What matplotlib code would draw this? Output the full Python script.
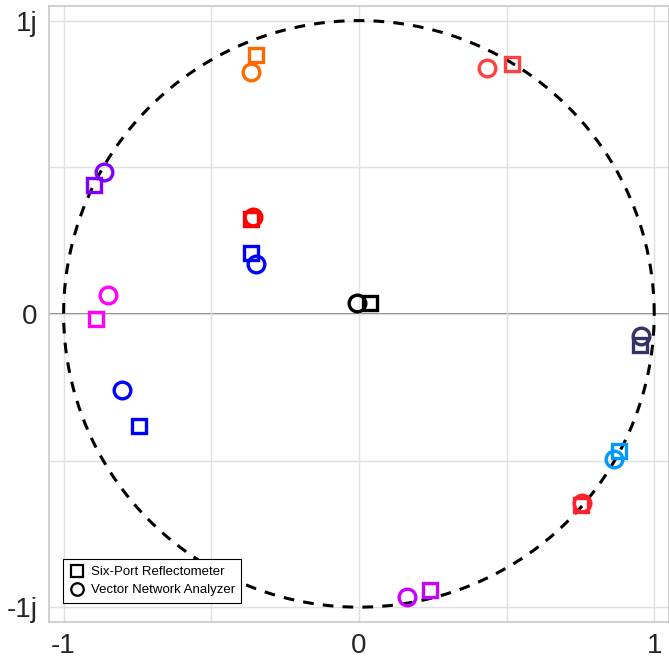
import numpy as np
import matplotlib.pyplot as plt

plt.rcParams['font.family'] = ['Liberation Sans', 'DejaVu Sans']

# colour of each measured load
colors = ['#ff6a00', '#ff4040', '#7f00ff', '#ff0000', '#0000ff', '#ff00ff',
          '#000000', '#333366', '#0000ff', '#0099ff', '#ff2030', '#cc00ff']

# six-port reflectometer (squares)
spr_re = [-0.350, 0.517, -0.898, -0.364, -0.367, -0.891,
          0.037, 0.952, -0.745, 0.881, 0.752, 0.241]
spr_im = [0.884, 0.853, 0.440, 0.324, 0.208, -0.017,
          0.038, -0.106, -0.382, -0.468, -0.652, -0.942]

# vector network analyzer (circles)
vna_re = [-0.367, 0.435, -0.864, -0.357, -0.347, -0.850,
          -0.007, 0.956, -0.803, 0.864, 0.755, 0.163]
vna_im = [0.826, 0.840, 0.485, 0.331, 0.171, 0.065,
          0.038, -0.075, -0.259, -0.495, -0.645, -0.966]

fig = plt.figure(figsize=(6.69, 6.58), dpi=100)
ax = fig.add_axes([0.073, 0.055, 0.927, 0.936])

t = np.linspace(0, 2*np.pi, 400)
ax.plot(np.cos(t), np.sin(t), '--', color='black', lw=2.2, dashes=(3.5, 3), zorder=1)
ax.axhline(0, color='#666666', lw=1.2, zorder=0.5)

for i in range(len(colors)):
    ax.plot(spr_re[i], spr_im[i], 's', mfc='none', mec=colors[i], ms=10, mew=2.4, zorder=3)
    ax.plot(vna_re[i], vna_im[i], 'o', mfc='none', mec=colors[i], ms=12, mew=2.4, zorder=3)

# legend entries
ax.plot([], [], 's', mfc='none', mec='black', ms=9, mew=1.6, label='Six-Port Reflectometer')
ax.plot([], [], 'o', mfc='none', mec='black', ms=9, mew=1.6, label='Vector Network Analyzer')
leg = ax.legend(loc='lower left', bbox_to_anchor=(0.012, 0.02), fontsize=9.5,
                fancybox=False, framealpha=1, edgecolor='black',
                handletextpad=0.4, borderpad=0.5, labelspacing=0.45, handlelength=1.2)
leg.get_frame().set_linewidth(0.8)

ax.set_xlim(-1.05, 1.05)
ax.set_ylim(-1.05, 1.05)
ax.set_xticks([-1, 0, 1])
ax.set_xticklabels(['-1', '0', '1'])
ax.set_yticks([-1, 0, 1])
ax.set_yticklabels(['-1j', '0', '1j'])
ax.set_xticks([-0.5, 0.5], minor=True)
ax.set_yticks([-0.5, 0.5], minor=True)
ax.grid(True, which='both', color='#e0e0e0', lw=1)
ax.tick_params(which='both', length=0, labelsize=20, colors='#262626', pad=8)
for s in ax.spines.values():
    s.set_color('#c8c8c8')
    s.set_linewidth(1.2)
ax.set_axisbelow(True)

fig.savefig('out.png', dpi=100)
